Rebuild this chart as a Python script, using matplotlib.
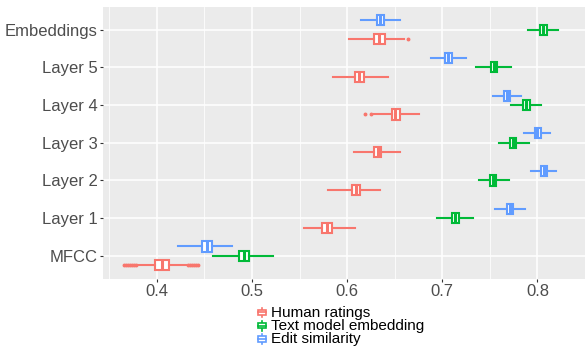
import matplotlib
matplotlib.use("Agg")
import matplotlib.pyplot as plt
from matplotlib.legend_handler import HandlerBase
from matplotlib.patches import Rectangle, Patch
from matplotlib.lines import Line2D

plt.rcParams['font.family'] = ['Liberation Sans', 'DejaVu Sans']

layers = ["MFCC", "Layer 1", "Layer 2", "Layer 3", "Layer 4", "Layer 5", "Embeddings"]
series = ["Human ratings", "Text model embedding", "Edit similarity"]
colors = ["#F8766D", "#00BA38", "#619CFF"]

# five-number summaries per layer: low whisker, q1, median, q3, high whisker
human = [[0.380, 0.398, 0.405, 0.4125, 0.431],
         [0.5548, 0.574, 0.579, 0.584, 0.6086],
         [0.580, 0.605, 0.6097, 0.614, 0.6343],
         [0.6072, 0.6278, 0.632, 0.636, 0.656],
         [0.6278, 0.6467, 0.6508, 0.6552, 0.6755],
         [0.5854, 0.608, 0.6124, 0.618, 0.6432],
         [0.6017, 0.6285, 0.634, 0.6395, 0.660]]
text_model = [[0.4587, 0.4862, 0.4917, 0.4971, 0.5222],
              [0.6943, 0.710, 0.7139, 0.7177, 0.732],
              [0.7383, 0.7502, 0.7533, 0.7568, 0.770],
              [0.7595, 0.7708, 0.7743, 0.7777, 0.7914],
              [0.7725, 0.7852, 0.788, 0.7918, 0.8034],
              [0.7355, 0.7513, 0.7547, 0.758, 0.7718],
              [0.790, 0.8027, 0.806, 0.8096, 0.8212]]
edit_sim = [[0.4227, 0.4478, 0.4526, 0.4577, 0.4793],
            [0.7553, 0.768, 0.7708, 0.7743, 0.7872],
            [0.793, 0.8041, 0.8068, 0.8096, 0.820],
            [0.786, 0.7972, 0.800, 0.8034, 0.8137],
            [0.753, 0.765, 0.768, 0.7712, 0.783],
            [0.6885, 0.703, 0.7064, 0.710, 0.7252],
            [0.6141, 0.6310, 0.6346, 0.6388, 0.656]]
# outliers of the human ratings, by layer index
human_out = {0: [0.366, 0.368, 0.370, 0.372, 0.374, 0.376, 0.378,
                 0.433, 0.435, 0.437, 0.439, 0.441, 0.443],
             4: [0.619, 0.625],
             6: [0.6645]}


class BoxKey(HandlerBase):
    def create_artists(self, legend, orig, xd, yd, w, h, fontsize, trans):
        c = orig.get_edgecolor()
        cx, cy = xd + w / 2, yd + h / 2
        bw, bh = w * 0.85, h * 0.55
        top = Line2D([cx, cx], [cy + bh / 2, yd + h], color=c, lw=1.2, transform=trans)
        bot = Line2D([cx, cx], [yd, cy - bh / 2], color=c, lw=1.2, transform=trans)
        rect = Rectangle((cx - bw / 2, cy - bh / 2), bw, bh, fc="white", ec=c, lw=1.2, transform=trans)
        mid = Line2D([cx - bw / 2, cx + bw / 2], [cy, cy], color=c, lw=1.2, transform=trans)
        return [top, bot, rect, mid]


fig = plt.figure(figsize=(5.85, 3.49), dpi=100)
ax = fig.add_axes([103 / 585, 1 - 278.5 / 349, 1 - 103 / 585, (278.5 - 7) / 349])
ax.set_facecolor("#EBEBEB")
ax.set_axisbelow(True)

offsets = [-0.25, 0.0, 0.25]
for data, col, off in zip([human, text_model, edit_sim], colors, offsets):
    stats = []
    for i, (lo, q1, med, q3, hi) in enumerate(data):
        fl = human_out.get(i, []) if data is human else []
        stats.append(dict(whislo=lo, q1=q1, med=med, q3=q3, whishi=hi, fliers=fl))
    ax.bxp(stats, positions=[i + off for i in range(len(layers))], widths=0.27,
           orientation="horizontal", patch_artist=True, showcaps=False,
           boxprops=dict(facecolor="white", edgecolor=col, linewidth=1.5),
           medianprops=dict(color=col, linewidth=2.2),
           whiskerprops=dict(color=col, linewidth=1.5),
           flierprops=dict(marker="o", markersize=1.8, markerfacecolor=col,
                           markeredgecolor=col, linestyle="none"),
           manage_ticks=False)

ax.set_xlim(0.3435, 0.8394)
ax.set_ylim(-0.6, 6.6)
ax.set_xticks([0.4, 0.5, 0.6, 0.7, 0.8])
ax.set_xticks([0.35, 0.45, 0.55, 0.65, 0.75, 0.85], minor=True)
ax.set_xticklabels(["0.4", "0.5", "0.6", "0.7", "0.8"])
ax.set_yticks(range(len(layers)))
ax.set_yticklabels(layers)
ax.grid(which="major", color="white", linewidth=1.1)
ax.grid(which="minor", axis="x", color="white", linewidth=0.55)
for s in ax.spines.values():
    s.set_visible(False)
ax.tick_params(which="major", length=2.5, color="#333333", labelcolor="#4D4D4D",
               labelsize=12, pad=1.5)
ax.tick_params(which="minor", length=0)

handles = [Patch(facecolor="white", edgecolor=c) for c in colors]
fig.legend(handles, series, handler_map={Patch: BoxKey()}, loc="center left",
           bbox_to_anchor=(0.426, 0.066), frameon=False, fontsize=11,
           handlelength=0.65, handleheight=0.6, labelspacing=-0.05,
           handletextpad=0.3, borderpad=0)

fig.savefig("out.png", dpi=100)
